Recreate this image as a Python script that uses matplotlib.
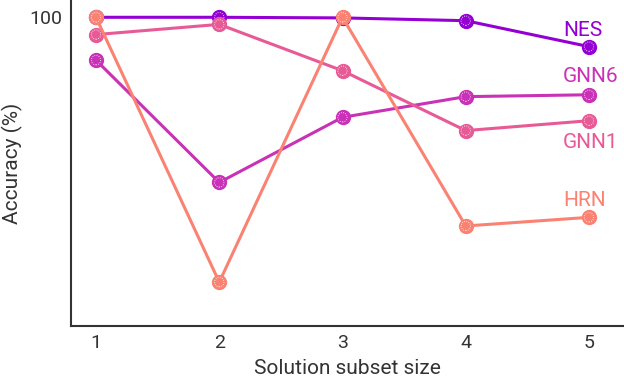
import matplotlib
matplotlib.use("Agg")
import matplotlib.pyplot as plt

subset_sizes = [1, 2, 3, 4, 5]
nes = [100.0, 100.0, 99.8, 98.9, 90.5]
gnn6 = [86.1, 46.5, 67.6, 74.3, 74.9]
gnn1 = [94.4, 97.7, 82.7, 63.3, 66.5]
hrn = [100.0, 14.2, 100.0, 32.4, 35.2]

series_names = ["NES", "GNN6", "GNN1", "HRN"]
series_values = [nes, gnn6, gnn1, hrn]
colors = ["#9400d3", "#c931b6", "#e85a96", "#fa8272"]
label_y = [95.8, 80.9, 59.3, 40.8]

plt.rcParams['font.family'] = ['Roboto', 'DejaVu Sans']

fig = plt.figure(figsize=(6.24, 3.78), dpi=100)
ax = fig.add_axes([71/624, 1 - 326/378, 1 - 71/624, 326/378])

for i, (name, vals, c) in enumerate(zip(series_names, series_values, colors)):
    ax.plot(subset_sizes, vals, color=c, lw=2.2, marker='o', ms=10,
            mfc=c, mec=c, zorder=3 + 2 * i)
    ax.scatter(subset_sizes, vals, s=45, facecolors='none', edgecolors='white',
               linewidths=0.6, linestyles=':', zorder=4 + 2 * i)

for name, c, ly in zip(series_names, colors, label_y):
    ax.text(4.79, ly, name, color=c, fontsize=15, ha='left', va='center')

ax.set_xlim(0.797, 5.284)
ax.set_ylim(0, 105.6)
ax.set_xticks(subset_sizes)
ax.set_yticks([100])
ax.tick_params(length=0, labelsize=14, colors='#333333', pad=6)
for s in ['top', 'right']:
    ax.spines[s].set_visible(False)
for s in ['left', 'bottom']:
    ax.spines[s].set_color('#333333')
    ax.spines[s].set_linewidth(1.5)
ax.set_xlabel("Solution subset size", fontsize=15, color='#333333', labelpad=5)
ax.set_ylabel("Accuracy (%)", fontsize=15, color='#333333', labelpad=5)

fig.savefig("out.png", dpi=100)
